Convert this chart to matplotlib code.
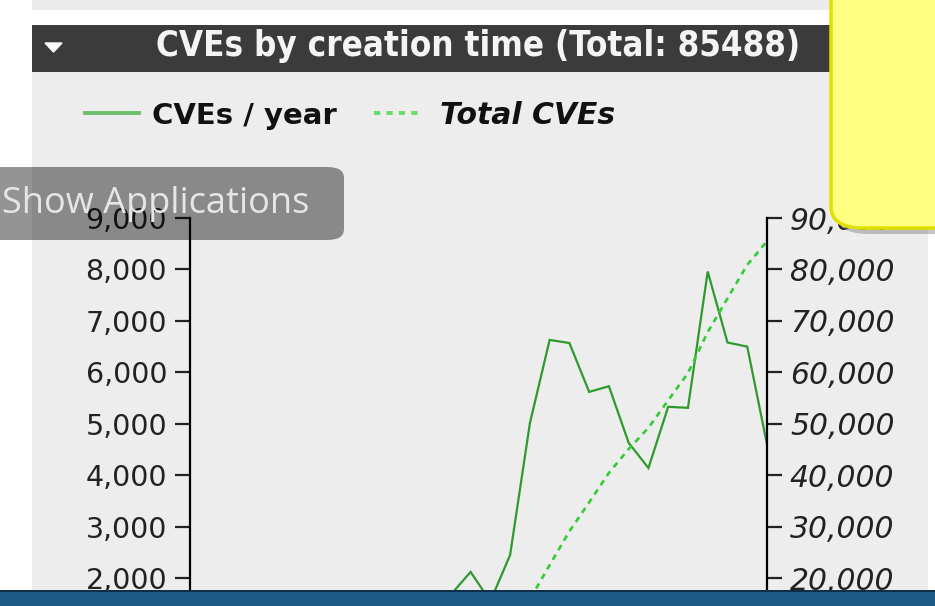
import matplotlib
matplotlib.use("Agg")
import matplotlib.pyplot as plt
from matplotlib.patches import Rectangle, FancyBboxPatch, Polygon
from matplotlib.lines import Line2D
from matplotlib.ticker import StrMethodFormatter

# CVE counts by creation year (early years estimated)
years = list(range(1988, 2018))
per_year = [2, 3, 11, 15, 13, 13, 25, 25, 75, 250, 250, 1150, 1256, 1680,
            2120, 1550, 2450, 5010, 6630, 6570, 5620, 5730, 4630, 4140,
            5330, 5310, 7960, 6580, 6500, 4600]
total = [2, 5, 16, 31, 44, 57, 82, 107, 182, 432, 682, 1832, 3088, 4768,
         6891, 8441, 10888, 15902, 22530, 29100, 34723, 40456, 45081, 49220,
         54551, 59857, 67813, 74388, 80888, 85488]
left_ticks = list(range(0, 9001, 1000))
right_ticks = list(range(0, 90001, 10000))
title = "CVEs by creation time (Total: 85488)"

W, H = 935, 606
fig = plt.figure(figsize=(W / 100, H / 100), dpi=100, facecolor="white")


def box(x0, y0, x1, y1):
    # pixel box (top-left origin) -> figure fraction rect
    return (x0 / W, 1 - y1 / H), (x1 - x0) / W, (y1 - y0) / H


def add_rect(x0, y0, x1, y1, z=-5, **kw):
    xy, w, h = box(x0, y0, x1, y1)
    fig.add_artist(Rectangle(xy, w, h, transform=fig.transFigure, zorder=z, **kw))


# page background pieces
add_rect(32, 0, 935, 10, color="#ebebeb", lw=0)
add_rect(32, 72, 928, 606, color="#ededed", lw=0)
add_rect(32, 25, 840, 72, color="#3b3b3b", lw=0)
tri = Polygon([(45 / W, 1 - 43 / H), (62 / W, 1 - 43 / H), (53.5 / W, 1 - 52 / H)],
              closed=True, transform=fig.transFigure, color="white", zorder=-4)
fig.add_artist(tri)
fig.text(478 / W, 1 - 46 / H, title, color="#f4f4f4", fontsize=25, fontweight="bold",
         fontstretch="condensed", ha="center", va="center", zorder=-4)

# chart axes (bottom part lies below the visible screenshot)
ax = fig.add_axes([190 / W, 1 - 681 / H, (767 - 190) / W, (681 - 218) / H])
ax.patch.set_alpha(0)
ax2 = ax.twinx()
ax.plot(years, per_year, color="#2e9a2e", lw=1.6, solid_joinstyle="miter")
ax2.plot(years, total, color="#33cc33", lw=1.9, ls=(0, (2.2, 2.0)))
ax.set_xlim(1987.8, 2017)
ax.set_ylim(0, 9000)
ax2.set_ylim(0, 90000)
ax.set_yticks(left_ticks)
ax2.set_yticks(right_ticks)
ax.yaxis.set_major_formatter(StrMethodFormatter("{x:,.0f}"))
ax2.yaxis.set_major_formatter(StrMethodFormatter("{x:,.0f}"))
ax.set_xticks([])
for a in (ax, ax2):
    for s in ("top", "bottom"):
        a.spines[s].set_visible(False)
    a.tick_params(axis="y", length=10.5, width=1.6, labelsize=20.5, colors="#222222", pad=6)
ax2.tick_params(axis="y", labelsize=21.5)
ax.spines["left"].set_linewidth(1.6)
ax2.spines["right"].set_linewidth(1.6)
ax.spines["right"].set_visible(False)
ax2.spines["left"].set_visible(False)
for lbl in ax2.get_yticklabels():
    lbl.set_fontstyle("italic")

# legend drawn like the web widget
fig.add_artist(Line2D([85 / W, 139 / W], [1 - 113 / H] * 2, transform=fig.transFigure,
                      color="#6dbf6d", lw=2.8))
fig.text(152 / W, 1 - 116 / H, "CVEs / year", fontsize=21, fontweight="bold",
         va="center", color="#111111")
fig.add_artist(Line2D([374 / W, 420 / W], [1 - 113 / H] * 2, transform=fig.transFigure,
                      color="#66dd66", lw=2.8, ls=(0, (1.6, 1.6))))
fig.text(440 / W, 1 - 116 / H, "Total CVEs", fontsize=21.5, fontweight="bold",
         fontstyle="italic", va="center", color="#111111")

# yellow note box with shadow
xy, w, h = box(836, -40, 980, 234)
fig.add_artist(FancyBboxPatch(xy, w, h, boxstyle="round,pad=0,rounding_size=0.035",
                              transform=fig.transFigure, color="#8a8a8a", alpha=0.5,
                              lw=0, zorder=3))
xy, w, h = box(831, -40, 980, 228)
fig.add_artist(FancyBboxPatch(xy, w, h, boxstyle="round,pad=0,rounding_size=0.035",
                              transform=fig.transFigure, facecolor="#ffff80",
                              edgecolor="#e0e000", lw=2.5, zorder=4))

# "Show Applications" overlay
xy, w, h = box(-30, 167, 344, 240)
fig.add_artist(FancyBboxPatch(xy, w, h, boxstyle="round,pad=0,rounding_size=0.018",
                              transform=fig.transFigure, color="black", alpha=0.42,
                              lw=0, zorder=5))
fig.text(2 / W, 1 - 204 / H, "Show Applications", family="Open Sans", fontsize=26,
         color="#e6e6e6", va="center", zorder=6)

# bottom panel bar
add_rect(0, 591, 935, 606, z=7, color="#1f5b86", lw=0)
add_rect(0, 590, 935, 592, z=8, color="#0f2f48", lw=0)

fig.savefig("out.png", dpi=100, facecolor=fig.get_facecolor())
